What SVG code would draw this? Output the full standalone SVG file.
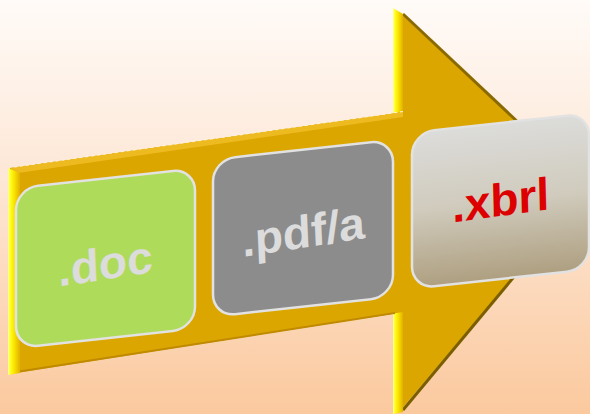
<svg xmlns="http://www.w3.org/2000/svg" width="590" height="414" viewBox="0 0 590 414">
  <defs>
    <linearGradient id="bg" x1="0" y1="0" x2="0" y2="1">
      <stop offset="0" stop-color="#FFFBF8"/>
      <stop offset="0.45" stop-color="#FDE6D4"/>
      <stop offset="1" stop-color="#FBC99E"/>
    </linearGradient>
    <linearGradient id="yEdge" x1="0" y1="0" x2="1" y2="0">
      <stop offset="0" stop-color="#FFFFA0"/>
      <stop offset="0.2" stop-color="#FFFF20"/>
      <stop offset="0.55" stop-color="#F8E000"/>
      <stop offset="1" stop-color="#E2B000"/>
    </linearGradient>
    <linearGradient id="xbrlFill" x1="0" y1="0" x2="0" y2="1">
      <stop offset="0" stop-color="#DCDCDA"/>
      <stop offset="0.5" stop-color="#D0CBBD"/>
      <stop offset="1" stop-color="#AE9F80"/>
    </linearGradient>
    <style>
      .card { stroke: #E2E2E2; stroke-width: 2.5; }
      .lbl { font-family: "Liberation Sans", Arial, sans-serif; font-weight: bold; font-size: 46px; text-anchor: middle; }
    </style>
  </defs>

  <rect x="0" y="0" width="590" height="414" fill="url(#bg)"/>

  <g id="arrow">
    <!-- head -->
    <polygon points="399,12 588,188 399,412" fill="#DCA600"/>
    <line x1="403" y1="14" x2="588" y2="188" stroke="#8A6A00" stroke-width="3"/>
    <line x1="588" y1="188" x2="403" y2="410" stroke="#7A5E00" stroke-width="3"/>
    <!-- head back edge -->
    <polygon points="393,8 403,14 403,412 393,414" fill="url(#yEdge)"/>
    <!-- shaft -->
    <polygon points="10,168 403,112 403,312 10,374" fill="#DCA600"/>
    <polygon points="10,168 403,112 403,117 18,173" fill="#EDBA20"/>
    <line x1="14" y1="167" x2="403" y2="111.5" stroke="#FFF0D8" stroke-width="1.2" stroke-dasharray="3 3"/>
    <line x1="16" y1="372" x2="395" y2="313" stroke="#C08A00" stroke-width="2"/>
    <line x1="18" y1="375" x2="393" y2="315" stroke="#F5D8B0" stroke-width="1" stroke-dasharray="3 3"/>
    <polygon points="8,168 20,173 20,373 8,375" fill="url(#yEdge)"/>
  </g>

  <g id="node-doc" transform="matrix(1,-0.11,0,1,0,0)">
    <rect class="card" x="16" y="190" width="179" height="160" rx="22" fill="#AFDB5B"/>
    <text class="lbl" x="106" y="291" fill="#DCDCDC" transform="rotate(-2.5 106 291)">.doc</text>
  </g>

  <g id="node-pdfa" transform="matrix(1,-0.11,0,1,0,0)">
    <rect class="card" x="213" y="183" width="180" height="157" rx="22" fill="#8C8C8C"/>
    <text class="lbl" x="304" y="281" fill="#DCDCDC" transform="rotate(-2.5 304 281)">.pdf/a</text>
  </g>

  <g id="node-xbrl" transform="matrix(1,-0.11,0,1,0,0)">
    <rect class="card" x="412" y="178" width="177" height="156" rx="22" fill="url(#xbrlFill)"/>
    <text class="lbl" x="501" y="271" fill="#DD0000" transform="rotate(-1.5 501 271)">.xbrl</text>
  </g>

  <g id="connectors"></g>
</svg>
